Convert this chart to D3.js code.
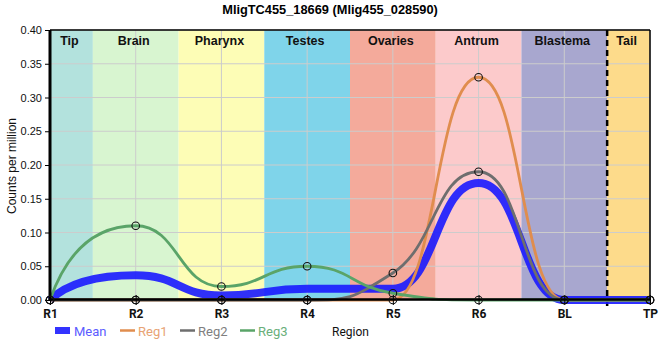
<!DOCTYPE html>
<html><head><meta charset="utf-8">
<script src="https://cdn.jsdelivr.net/npm/d3@7"></script>
<style>body{margin:0;background:#fff}svg{display:block;font-family:"Liberation Sans",Arial,sans-serif}</style>
</head><body><svg id="c" width="660" height="360"></svg>
<script>
const title = "MligTC455_18669 (Mlig455_028590)";
const positions = ["R1","R2","R3","R4","R5","R6","BL","TP"];
const regions = ["Tip","Brain","Pharynx","Testes","Ovaries","Antrum","Blastema","Tail"];
const regionStart = [0,0.5,1.5,2.5,3.5,4.5,5.5,6.5];
const regionEnd = [0.5,1.5,2.5,3.5,4.5,5.5,6.5,7];
const regionColors = ["#b3e2dd","#d8f5d0","#fdfdb6","#7fd4ea","#f4aa9b","#fccacb","#a8a7cf","#fddb8b"];
const reg1 = [0,0,0,0,0,0.33,0,0];
const reg2 = [0,0,0,0,0.04,0.19,0,0];
const reg3 = [0,0.11,0.02,0.05,0.01,0,0,0];
const mean = reg1.map((v,i)=>(v+reg2[i]+reg3[i])/3);
const yTicks = [0,0.05,0.10,0.15,0.20,0.25,0.30,0.35,0.40];
const seriesNames = ["Reg1","Reg2","Reg3"];
const seriesColors = ["#e08d4e","#6e6e6e","#5aa468"];
const seriesData = [reg1,reg2,reg3];

const svg = d3.select("#c");
const x = d3.scaleLinear().domain([0,7]).range([50,650]);
const y = d3.scaleLinear().domain([0,0.4]).range([300,30]);

// spline through points (horizontal control offsets, no overshoot at extremes)
function splinePath(vals){
  const pts = vals.map((v,i)=>[x(i),y(v)]);
  const n = pts.length, sm=1.0, den=sm+1;
  const L = new Array(n).fill(null), R = new Array(n).fill(null);
  for(let i=1;i<n-1;i++){
    const px=pts[i][0], py=pts[i][1];
    const lx=pts[i-1][0], ly=pts[i-1][1], nx=pts[i+1][0], ny=pts[i+1][1];
    let lcx=(sm*px+lx)/den, lcy=(sm*py+ly)/den;
    let rcx=(sm*px+nx)/den, rcy=(sm*py+ny)/den;
    let corr=0;
    if(rcx!==lcx) corr=((rcy-lcy)*(rcx-px))/(rcx-lcx)+py-rcy;
    lcy+=corr; rcy+=corr;
    if(lcy>ly&&lcy>py){lcy=Math.max(ly,py);rcy=2*py-lcy;}
    else if(lcy<ly&&lcy<py){lcy=Math.min(ly,py);rcy=2*py-lcy;}
    if(rcy>ny&&rcy>py){rcy=Math.max(ny,py);lcy=2*py-rcy;}
    else if(rcy<ny&&rcy<py){rcy=Math.min(ny,py);lcy=2*py-rcy;}
    L[i]=[lcx,lcy]; R[i]=[rcx,rcy];
  }
  let d = "M"+pts[0][0]+","+pts[0][1];
  for(let i=1;i<n;i++){
    const p0=pts[i-1], p1=pts[i];
    if(i===1 && L[1]){
      d+=`Q${p0[0]+0.3*(p1[0]-p0[0])},${L[1][1]},${p1[0]},${p1[1]}`;
    } else if(i===n-1 && R[n-2]){
      d+=`Q${p1[0]-0.3*(p1[0]-p0[0])},${R[n-2][1]},${p1[0]},${p1[1]}`;
    } else {
      const c1=R[i-1]||p0, c2=L[i]||p1;
      d+=`C${c1[0]},${c1[1]},${c2[0]},${c2[1]},${p1[0]},${p1[1]}`;
    }
  }
  return d;
}

// bands
svg.selectAll("rect.band").data(regions).enter().append("rect")
  .attr("x",(d,i)=>x(regionStart[i])).attr("y",y(0.4))
  .attr("width",(d,i)=>x(regionEnd[i])-x(regionStart[i])).attr("height",y(0)-y(0.4))
  .attr("fill",(d,i)=>regionColors[i]);

// grid
svg.selectAll("line.gy").data(yTicks).enter().append("line")
  .attr("x1",x(0)).attr("x2",x(7)).attr("y1",d=>y(d)).attr("y2",d=>y(d))
  .attr("stroke","#cccccc").attr("stroke-width",1);
svg.selectAll("line.gx").data(positions).enter().append("line")
  .attr("x1",(d,i)=>x(i)).attr("x2",(d,i)=>x(i)).attr("y1",y(0.4)).attr("y2",y(0))
  .attr("stroke","#cccccc").attr("stroke-width",1);

// band labels
svg.selectAll("text.band").data(regions).enter().append("text")
  .attr("x",(d,i)=>(x(regionStart[i])+x(regionEnd[i]))/2 - 2).attr("y",45)
  .attr("text-anchor","middle").attr("font-size","12.5px").attr("font-weight","bold")
  .attr("fill","#111").text(d=>d);

// dashed separator
svg.append("line").attr("x1",x(6.5)).attr("x2",x(6.5)).attr("y1",y(0.4)).attr("y2",y(0)+6)
  .attr("stroke","#000").attr("stroke-width",2.5).attr("stroke-dasharray","6,4");

// mean
svg.append("path").attr("d",splinePath(mean)).attr("fill","none")
  .attr("stroke","#1a1aff").attr("stroke-opacity",0.9).attr("stroke-width",8);

seriesData.forEach((s,k)=>{
  svg.append("path").attr("d",splinePath(s)).attr("fill","none")
    .attr("stroke",seriesColors[k]).attr("stroke-width",2.8);
});

// axes
const yAxis = d3.axisLeft(y).tickValues(yTicks).tickFormat(d3.format(".2f")).tickSize(5);
const gy = svg.append("g").attr("transform",`translate(${x(0)},0)`).call(yAxis);
gy.select(".domain").remove();
gy.selectAll("text").attr("font-size","11px").attr("fill","#111").attr("font-family","'Liberation Sans',Arial,sans-serif");

const xAxis = d3.axisBottom(x).tickValues(d3.range(positions.length)).tickFormat(i=>positions[i]).tickSize(5);
const gx = svg.append("g").attr("transform",`translate(0,${y(0)})`).call(xAxis);
gx.select(".domain").remove();
gx.selectAll("text").attr("font-size","12px").attr("font-weight","bold").attr("fill","#111")
  .attr("font-family","Roboto,sans-serif").attr("dy","0.8em");
gx.selectAll("line").attr("y1",-5);

// frame
svg.append("line").attr("x1",x(0)).attr("x2",x(7)).attr("y1",y(0.4)).attr("y2",y(0.4)).attr("stroke","#000").attr("stroke-width",1.5);
svg.append("line").attr("x1",x(7)).attr("x2",x(7)).attr("y1",y(0.4)).attr("y2",y(0)).attr("stroke","#000").attr("stroke-width",1.5);
svg.append("line").attr("x1",x(0)-1.5).attr("x2",x(7)).attr("y1",y(0)-0.5).attr("y2",y(0)-0.5).attr("stroke","#000").attr("stroke-width",2.6);
svg.append("line").attr("x1",x(0)).attr("x2",x(0)).attr("y1",y(0.4)).attr("y2",y(0)+1).attr("stroke","#000").attr("stroke-width",3);

// markers
seriesData.forEach((s,k)=>{
  svg.selectAll(null).data(s).enter().append("circle")
    .attr("cx",(d,i)=>x(i)).attr("cy",d=>y(d)).attr("r",3.8)
    .attr("fill","none").attr("stroke","#111").attr("stroke-width",1.1);
});

// title
svg.append("text").attr("x",330).attr("y",14).attr("text-anchor","middle")
  .attr("font-size","12.8px").attr("font-weight","bold").text(title);

// y label
svg.append("text").attr("transform","translate(16,166) rotate(-90)").attr("text-anchor","middle")
  .attr("font-size","12px").attr("fill","#111").text("Counts per million");

// x label
svg.append("text").attr("x",332).attr("y",336).attr("font-size","12px").attr("fill","#111")
  .attr("font-family","Roboto,sans-serif").text("Region");

// legend
const leg = svg.append("g");
const legNames = ["Mean"].concat(seriesNames);
const legColors = ["#3333ff"].concat(seriesColors);
const legText = ["#5c5cff","#e8a374","#7f7f7f","#6aaf7a"];
const legX = [55,120,180,240];
legNames.forEach((n,i)=>{
  if(i===0){
    leg.append("rect").attr("x",legX[i]).attr("y",327).attr("width",15).attr("height",7).attr("fill",legColors[i]);
  } else {
    leg.append("line").attr("x1",legX[i]).attr("x2",legX[i]+15).attr("y1",330.5).attr("y2",330.5)
      .attr("stroke",legColors[i]).attr("stroke-width",2.5);
  }
  leg.append("text").attr("x",legX[i]+(i===0?19:18)).attr("y",336).attr("font-size","13px")
    .attr("font-family","Roboto,sans-serif").attr("fill",legText[i]).text(n);
});
</script></body></html>
